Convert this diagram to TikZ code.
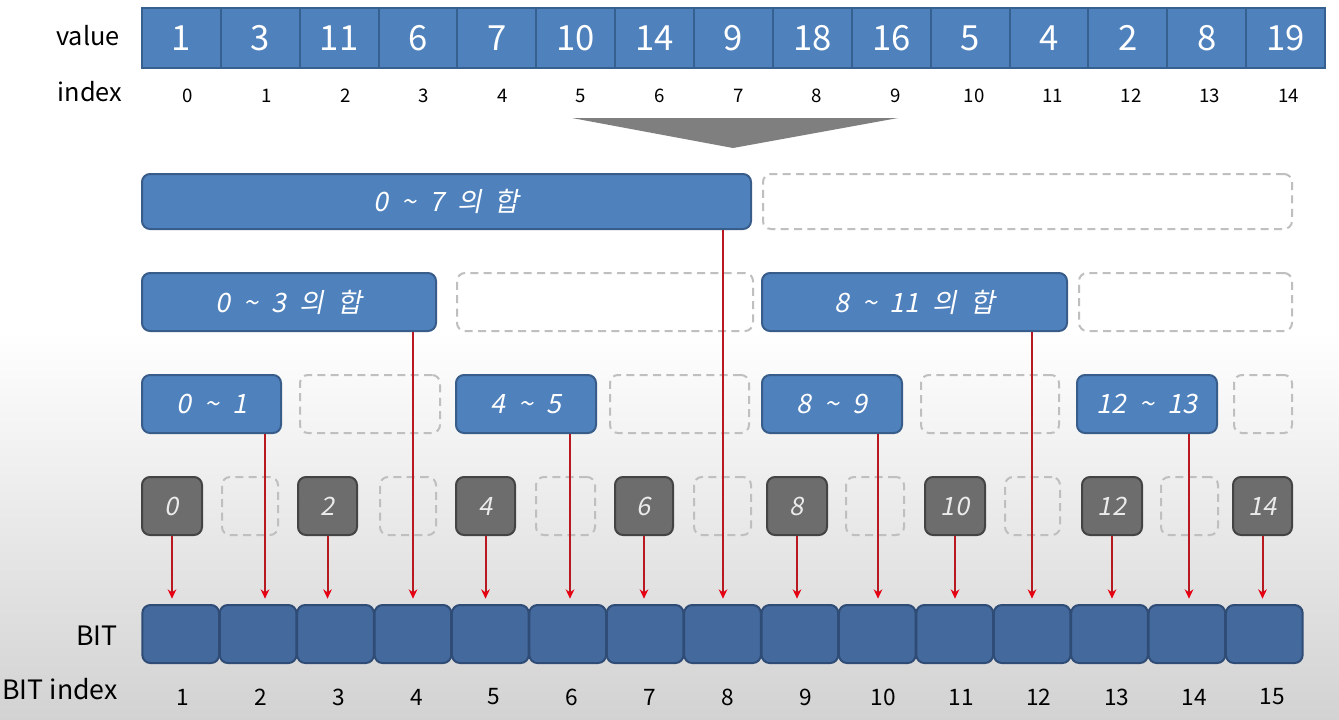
\documentclass[tikz,border=0pt]{standalone}
\usepackage{fontspec}
\setmainfont{Noto Sans CJK KR}
\newfontfamily\slf[FakeSlant=0.2,WordSpace=2.2]{Noto Sans CJK KR}
\usetikzlibrary{arrows.meta,fit}
\newcommand\tld{\symbol{"7E}}
\definecolor{valfill}{HTML}{4F81BD}
\definecolor{valedge}{HTML}{35608F}
\definecolor{bitfill}{HTML}{44699D}
\definecolor{bitedge}{HTML}{2E4C75}
\definecolor{boxfill}{HTML}{4F81BD}
\definecolor{boxedge}{HTML}{385D8A}
\definecolor{gfill}{HTML}{6D6D6D}
\definecolor{gedge}{HTML}{444444}
\definecolor{dashc}{HTML}{BFBFBF}
\definecolor{redline}{HTML}{B81820}
\definecolor{redtip}{HTML}{E60012}
\definecolor{tri}{HTML}{7F7F7F}
\begin{document}
\begin{tikzpicture}[x=0.75pt,y=-0.75pt,
  valcell/.style={draw=valedge, fill=valfill, line width=1.5pt, minimum width=59.15pt, minimum height=45pt, inner sep=0pt, text=white, font=\fontsize{26}{26}\selectfont},
  idx/.style={inner sep=0pt, text=black, font=\fontsize{14}{14}\selectfont},
  bidx/.style={inner sep=0pt, text=black, font=\fontsize{17}{17}\selectfont},
  lbl/.style={inner sep=0pt, text=black, font=\fontsize{19}{19}\selectfont},
  bluebox/.style={draw=boxedge, fill=boxfill, line width=1.5pt, rounded corners=6pt, inner sep=0pt},
  btxt/.style={inner sep=0pt, text=white, font=\slf\fontsize{20}{20}\selectfont},
  gtxt/.style={inner sep=0pt, text=white!92!black, font=\slf\fontsize{19}{19}\selectfont},
  dashbox/.style={draw=dashc, line width=1.5pt, dash pattern=on 6pt off 4pt, rounded corners=6pt, inner sep=0pt},
  graybox/.style={draw=gedge, fill=gfill, line width=1.5pt, rounded corners=6pt, inner sep=0pt},
  bitcell/.style={draw=bitedge, fill=bitfill, line width=1.5pt, rounded corners=6pt, minimum width=57.5pt, minimum height=43.5pt, inner sep=0pt},
  arr/.style={draw=redline, line width=1.5pt, -{Stealth[length=7pt,width=6.5pt,color=redtip]}, shorten >=4pt},
]
\useasboundingbox (0,0) rectangle (1339,719);
\fill[white] (0,0) rectangle (1339,719);
\shade[top color=white, bottom color=gray!35] (0,330) rectangle (1339,719);

% value row
\foreach \v [count=\i from 0] in {1,3,11,6,7,10,14,9,18,16,5,4,2,8,19}{
  \node[valcell] (v\i) at ({181.4+78.87*\i},38) {\v};
  \node[idx] (i\i) at ({188+78.6*\i},96) {\i};
}
\node[lbl] (lv) at (88,36) {value};
\node[lbl] (li) at (90,92) {index};

% big arrow
\fill[tri] (572,118) -- (898,118) -- (733,148) -- cycle;

% row 1
\node[bluebox, fit={(142,174)(751,229)}] (r07) {};
\node[dashbox, fit={(763,174)(1292,229)}] (d1) {};
% row 2
\node[bluebox, fit={(142,273)(436,331)}] (r03) {};
\node[dashbox, fit={(457,273)(753,331)}] (d2a) {};
\node[bluebox, fit={(762,273)(1067,331)}] (r811) {};
\node[dashbox, fit={(1079,273)(1292,331)}] (d2b) {};
% row 3
\node[bluebox, fit={(142,375)(281,433)}] (r01) {};
\node[dashbox, fit={(300,375)(440,433)}] (d3a) {};
\node[bluebox, fit={(456,375)(596,433)}] (r45) {};
\node[dashbox, fit={(610,375)(749,433)}] (d3b) {};
\node[bluebox, fit={(762,375)(902,433)}] (r89) {};
\node[dashbox, fit={(921,375)(1059,433)}] (d3c) {};
\node[bluebox, fit={(1077,375)(1217,433)}] (r1213) {};
\node[dashbox, fit={(1234,375)(1292,433)}] (d3d) {};
% row 4
\node[graybox, fit={(142,477)(202,535)}] (g0) {};
\node[dashbox, fit={(222,477)(278,535)}] (d4a) {};
\node[graybox, fit={(298,477)(357,535)}] (g2) {};
\node[dashbox, fit={(380,477)(436,535)}] (d4b) {};
\node[graybox, fit={(456,477)(515,535)}] (g4) {};
\node[dashbox, fit={(536,477)(595,535)}] (d4c) {};
\node[graybox, fit={(615,477)(673,535)}] (g6) {};
\node[dashbox, fit={(694,477)(751,535)}] (d4d) {};
\node[graybox, fit={(767,477)(827,535)}] (g8) {};
\node[dashbox, fit={(846,477)(904,535)}] (d4e) {};
\node[graybox, fit={(925,477)(985,535)}] (g10) {};
\node[dashbox, fit={(1005,477)(1060,535)}] (d4f) {};
\node[graybox, fit={(1082,477)(1142,535)}] (g12) {};
\node[dashbox, fit={(1161,477)(1218,535)}] (d4g) {};
\node[graybox, fit={(1233,477)(1292,535)}] (g14) {};

% box texts
\node[btxt] (t07) at (r07.center) {0 \tld{} 7 의 합};
\node[btxt] (t03) at (r03.center) {0 \tld{} 3 의 합};
\node[btxt] (t811) at (r811.center) {8 \tld{} 11 의 합};
\node[btxt] (t01) at (r01.center) {0 \tld{} 1};
\node[btxt] (t45) at (r45.center) {4 \tld{} 5};
\node[btxt] (t89) at (r89.center) {8 \tld{} 9};
\node[btxt] (t1213) at (r1213.center) {12 \tld{} 13};
\foreach \n in {0,2,4,6,8,10,12,14}{
  \node[gtxt] (tg\n) at (g\n.center) {\n};
}

% BIT row
\foreach \i in {1,...,15}{
  \node[bitcell] (b\i) at ({142+77.4*(\i-0.5)},634) {};
  \node[bidx] (bl\i) at ({183+77.8*(\i-1)},697) {\i};
}
\node[lbl, anchor=east, font=\fontsize{20}{20}\selectfont] (lb) at (118,636) {BIT};
\node[lbl, anchor=east, font=\fontsize{20}{20}\selectfont] (lbi) at (118,689) {BIT index};

% arrows
\draw[arr] (g0.south) -- (g0.south |- b1.north);
\draw[arr] (265,0 |- r01.south) -- (265,0 |- b2.north);
\draw[arr] (g2.south) -- (g2.south |- b3.north);
\draw[arr] (413,0 |- r03.south) -- (413,0 |- b4.north);
\draw[arr] (g4.south) -- (g4.south |- b5.north);
\draw[arr] (570,0 |- r45.south) -- (570,0 |- b6.north);
\draw[arr] (g6.south) -- (g6.south |- b7.north);
\draw[arr] (723,0 |- r07.south) -- (723,0 |- b8.north);
\draw[arr] (g8.south) -- (g8.south |- b9.north);
\draw[arr] (878,0 |- r89.south) -- (878,0 |- b10.north);
\draw[arr] (g10.south) -- (g10.south |- b11.north);
\draw[arr] (1032,0 |- r811.south) -- (1032,0 |- b12.north);
\draw[arr] (g12.south) -- (g12.south |- b13.north);
\draw[arr] (1189,0 |- r1213.south) -- (1189,0 |- b14.north);
\draw[arr] (g14.south) -- (g14.south |- b15.north);
\end{tikzpicture}
\end{document}
